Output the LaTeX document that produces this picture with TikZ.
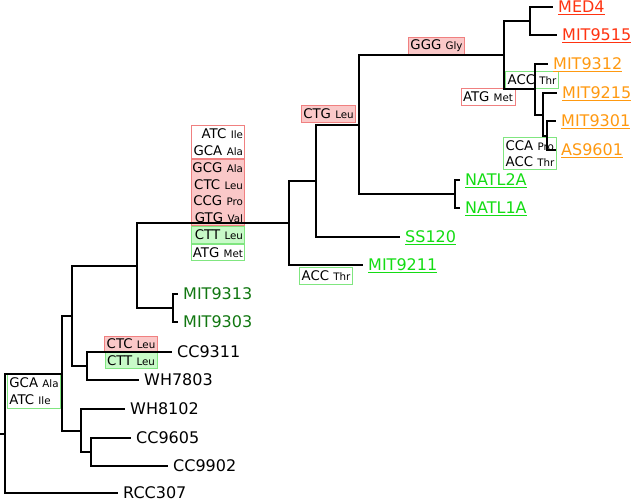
\documentclass[tikz,border=0pt]{standalone}
\usepackage{fontspec}
\setmainfont{DejaVu Sans}
\usepackage{tikz}
\usetikzlibrary{positioning}

\definecolor{cRed}{RGB}{255,51,17}
\definecolor{cOrange}{RGB}{255,153,17}
\definecolor{cGreen}{RGB}{20,220,20}
\definecolor{cDark}{RGB}{17,119,17}
\definecolor{redfill}{RGB}{250,200,200}
\definecolor{redline}{RGB}{240,128,128}
\definecolor{greenfill}{RGB}{200,250,200}
\definecolor{greenline}{RGB}{128,230,128}

\newcommand{\resid}[1]{{\fontsize{10.3}{12}\selectfont #1}}

\tikzset{
  tree/.style={line width=1.7pt, black},
  leaf/.style={anchor=base west, yshift=-5.5pt, inner xsep=5pt, inner ysep=0pt,
    font=\fontsize{16}{19}\selectfont},
  codon/.style={inner xsep=2pt, inner ysep=0pt, line width=0.8pt,
    font=\fontsize{13.3}{16.6}\selectfont, minimum height=17pt},
  redbox/.style={codon, draw=redline, fill=redfill},
  greenbox/.style={codon, draw=greenline, fill=greenfill},
  redframe/.style={codon, draw=redline, fill=white},
  greenframe/.style={codon, draw=greenline, fill=white},
}

\begin{document}
\begin{tikzpicture}[x=1pt, y=-1pt]
\useasboundingbox (0,0) rectangle (632,500);

%----- codon change boxes -----
\node[redbox] (gggGly) at (436.5,46) {GGG \resid{Gly}};
\node[greenframe] (accThrA) at (532,80) {ACC \resid{Thr}};
\node[redframe] (atgMetA) at (488,96.5) {ATG \resid{Met}};
\node[greenframe, align=left, minimum height=32pt] (ccaPro) at (530,153.5)
  {CCA \resid{Pro}\\ACC \resid{Thr}};
\node[redbox] (ctgLeu) at (328.5,113.5) {CTG \resid{Leu}};
\node[greenframe] (accThrB) at (326,276) {ACC \resid{Thr}};
% stack on the long branch
\node[redframe, anchor=north, text width=51pt, align=right, inner xsep=1pt,
  minimum height=33.2pt] (atcIle) at (217.5,125) {ATC \resid{Ile}\\GCA \resid{Ala}};
\node[redbox, below=0pt of atcIle, text width=51pt, align=right, inner xsep=1pt,
  minimum height=66.4pt] (gcgAla)
  {GCG \resid{Ala}\\CTC \resid{Leu}\\CCG \resid{Pro}\\GTG \resid{Val}};
\node[greenbox, below=0pt of gcgAla, text width=51pt, align=right, inner xsep=1pt,
  minimum height=16.6pt] (cttLeuA) {CTT \resid{Leu}};
\node[greenframe, below=0pt of cttLeuA, text width=51pt, align=right, inner xsep=1pt,
  minimum height=16.6pt] (atgMetB) {ATG \resid{Met}};
% CC9311 branch
\node[redbox, minimum height=16pt] (ctcLeu) at (131,344) {CTC \resid{Leu}};
\node[greenbox, minimum height=16pt, below=0pt of ctcLeu] (cttLeuB) {CTT \resid{Leu}};
% root branch
\node[greenframe, align=left, minimum height=34pt] (gcaAla) at (34,391)
  {GCA \resid{Ala}\\ATC \resid{Ile}};

%----- tree -----
\coordinate (r0) at (0,434);
\coordinate (r) at (5,434);
\coordinate (n1) at (62,374);
\coordinate (n2) at (72,316);
\coordinate (n3) at (137,266);
\coordinate (n4) at (289,223);
\coordinate (n5) at (316,181);
\coordinate (n6) at (359,125);
\coordinate (n7) at (173,308);
\coordinate (n8) at (87,366);
\coordinate (n9) at (81,431);
\coordinate (n10) at (91,452);
\coordinate (n11) at (504,55);
\coordinate (n12) at (455,194);
\coordinate (n13) at (530,21);
\coordinate (n14) at (535,89);
\coordinate (n15) at (543,115);
\coordinate (n16) at (547,136);
% leaf ends
\coordinate (tMED4) at (553,7);
\coordinate (tMIT9515) at (557,35);
\coordinate (tMIT9312) at (548,64);
\coordinate (tMIT9215) at (557,93);
\coordinate (tMIT9301) at (556,121);
\coordinate (tAS9601) at (556,150);
\coordinate (tNATL2A) at (460,180);
\coordinate (tNATL1A) at (460,208);
\coordinate (tSS120) at (400,237);
\coordinate (tMIT9211) at (363,265);
\coordinate (tMIT9313) at (178,294);
\coordinate (tMIT9303) at (178,322);
\coordinate (tCC9311) at (172,352);
\coordinate (tWH7803) at (139,380);
\coordinate (tWH8102) at (125,409);
\coordinate (tCC9605) at (131,438);
\coordinate (tCC9902) at (168,466);
\coordinate (tRCC307) at (118,493);

\draw[tree] (r0) -- (r);
\foreach \a/\b in {r/n1, r/tRCC307, n1/n2, n1/n9, n2/n3, n2/n8, n8/tCC9311,
    n8/tWH7803, n9/tWH8102, n9/n10, n10/tCC9605, n10/tCC9902, n3/n4, n3/n7,
    n7/tMIT9313, n7/tMIT9303, n4/n5, n4/tMIT9211, n5/n6, n5/tSS120, n6/n11,
    n6/n12, n12/tNATL2A, n12/tNATL1A, n11/n13, n11/n14, n13/tMED4,
    n13/tMIT9515, n14/tMIT9312, n14/n15, n15/tMIT9215, n15/n16,
    n16/tMIT9301, n16/tAS9601}
  \draw[tree] (\a) |- (\b);

%----- strain labels -----
\node[leaf, text=cRed] (MED4) at (tMED4) {\underline{MED4}};
\node[leaf, text=cRed] (MIT9515) at (tMIT9515) {\underline{MIT9515}};
\node[leaf, text=cOrange] (MIT9312) at (tMIT9312) {\underline{MIT9312}};
\node[leaf, text=cOrange] (MIT9215) at (tMIT9215) {\underline{MIT9215}};
\node[leaf, text=cOrange] (MIT9301) at (tMIT9301) {\underline{MIT9301}};
\node[leaf, text=cOrange] (AS9601) at (tAS9601) {\underline{AS9601}};
\node[leaf, text=cGreen] (NATL2A) at (tNATL2A) {\underline{NATL2A}};
\node[leaf, text=cGreen] (NATL1A) at (tNATL1A) {\underline{NATL1A}};
\node[leaf, text=cGreen] (SS120) at (tSS120) {\underline{SS120}};
\node[leaf, text=cGreen] (MIT9211) at (tMIT9211) {\underline{MIT9211}};
\node[leaf, text=cDark] (MIT9313) at (tMIT9313) {MIT9313};
\node[leaf, text=cDark] (MIT9303) at (tMIT9303) {MIT9303};
\node[leaf] (CC9311) at (tCC9311) {CC9311};
\node[leaf] (WH7803) at (tWH7803) {WH7803};
\node[leaf] (WH8102) at (tWH8102) {WH8102};
\node[leaf] (CC9605) at (tCC9605) {CC9605};
\node[leaf] (CC9902) at (tCC9902) {CC9902};
\node[leaf] (RCC307) at (tRCC307) {RCC307};
\end{tikzpicture}
\end{document}
